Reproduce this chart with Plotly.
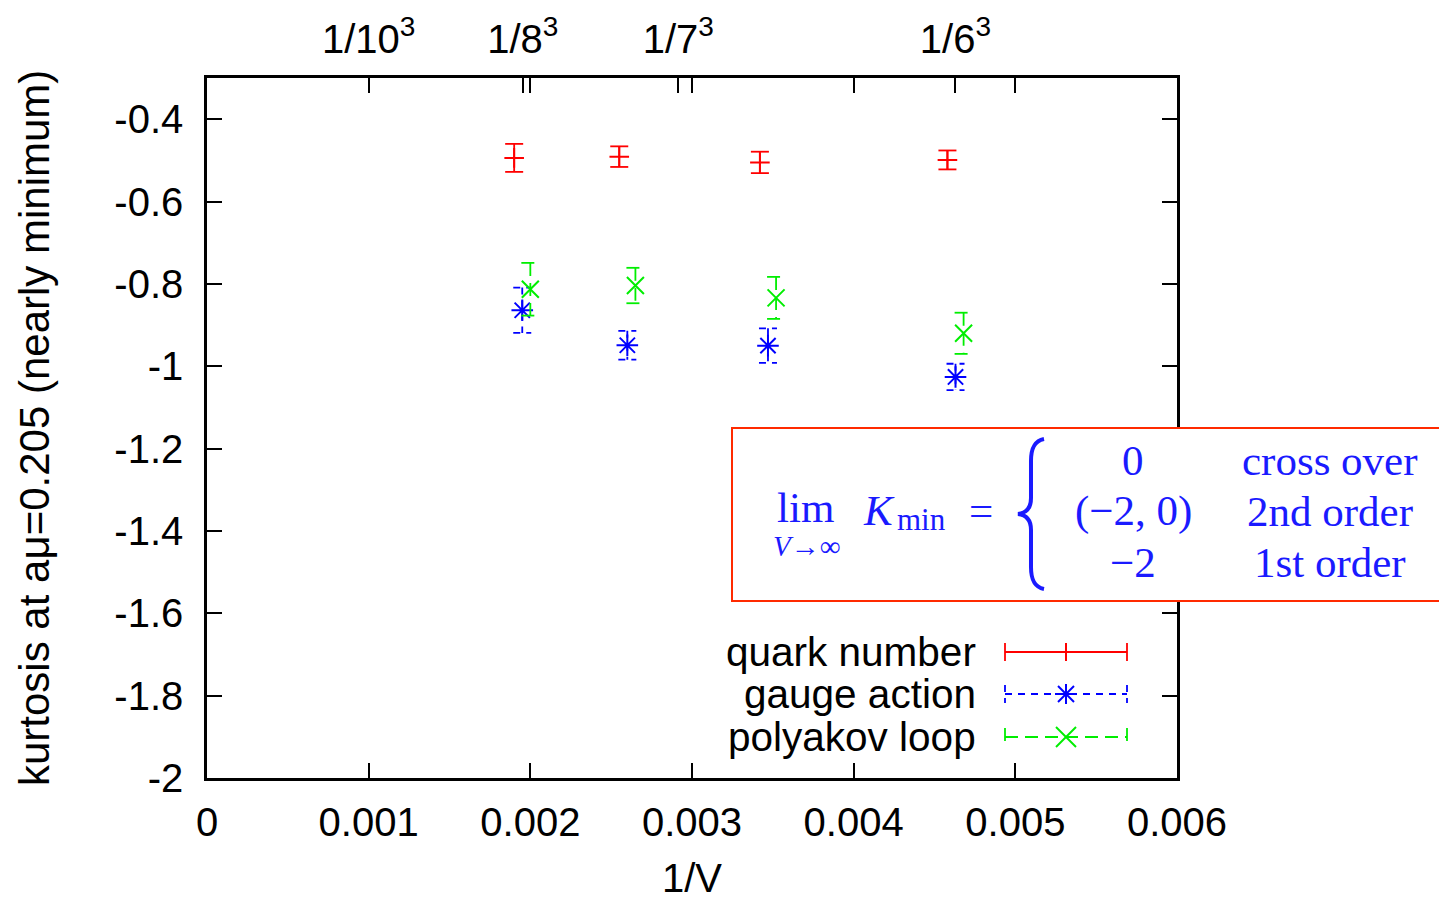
import plotly.graph_objects as go

# ---- data: kurtosis at the (nearly) minimum, versus inverse lattice volume ----
quark_x = [0.00190, 0.00255, 0.00342, 0.00458]
quark_y = [-0.494, -0.491, -0.505, -0.499]
quark_err = [0.034, 0.025, 0.026, 0.023]

gauge_x = [0.00195, 0.00260, 0.00347, 0.00463]
gauge_y = [-0.864, -0.949, -0.950, -1.026]
gauge_err = [0.055, 0.035, 0.042, 0.032]

poly_x = [0.00200, 0.00265, 0.00352, 0.00468]
poly_y = [-0.813, -0.804, -0.834, -0.920]
poly_err = [0.064, 0.043, 0.051, 0.050]

x_ticks = [0, 0.001, 0.002, 0.003, 0.004, 0.005, 0.006]
x_tick_labels = ["0", "0.001", "0.002", "0.003", "0.004", "0.005", "0.006"]
y_ticks = [-2, -1.8, -1.6, -1.4, -1.2, -1, -0.8, -0.6, -0.4]
y_tick_labels = ["-2", "-1.8", "-1.6", "-1.4", "-1.2", "-1", "-0.8", "-0.6", "-0.4"]
top_ticks = [1 / 10**3, 1 / 8**3, 1 / 7**3, 1 / 6**3]
top_tick_labels = ["1/10<sup>3</sup>", "1/8<sup>3</sup>", "1/7<sup>3</sup>", "1/6<sup>3</sup>"]

legend_names = ["quark number", "gauge action", "polyakov loop"]

# ---- geometry / style ----
W, H = 1439, 902
ML, MR, MT, MB = 207, 262, 78, 124
PW, PH = W - ML - MR, H - MT - MB
X_RANGE = [0, 0.006]
Y_RANGE = [-2, -0.3]

SANS = "Liberation Sans, Arial, Helvetica, sans-serif"
SERIF = "Liberation Serif, Times New Roman, serif"
RED, BLUE, GREEN = "#ff0000", "#0000ff", "#00ee00"
MATH_BLUE = "#1a1aff"
BOX_RED = "#ff2a00"
FS = 40
FS_LEGEND = 40.5
FS_YTITLE = 42

BLUE_DASH = "7px,6px"
GREEN_DASH = "13px,7px"

# half cap width of the error bars: 9 screen pixels, expressed in x units
CAP = 9 * (X_RANGE[1] - X_RANGE[0]) / PW


def px(x):
    return (x - ML) / PW


def py(y):
    return (H - MB - y) / PH


def errbar_path(xs, ys, es):
    """Vertical bar with caps for every point, as one broken polyline."""
    ox, oy = [], []
    for x, y, e in zip(xs, ys, es):
        ox += [x - CAP, x + CAP, None, x, x, None, x - CAP, x + CAP, None]
        oy += [y + e, y + e, None, y + e, y - e, None, y - e, y - e, None]
    return ox, oy


fig = go.Figure()

series = [
    (quark_x, quark_y, quark_err, RED, "solid", "cross-thin-open", 14),
    (gauge_x, gauge_y, gauge_err, BLUE, BLUE_DASH, "asterisk-open", 18),
    (poly_x, poly_y, poly_err, GREEN, GREEN_DASH, "x-thin-open", 17),
]

for (xs, ys, es, col, dash, sym, size), name in zip(series, legend_names):
    ex, ey = errbar_path(xs, ys, es)
    fig.add_trace(go.Scatter(
        x=ex, y=ey, mode="lines", connectgaps=False,
        line=dict(color=col, width=1.8, dash=dash),
        hoverinfo="skip", showlegend=False,
    ))
    fig.add_trace(go.Scatter(
        x=xs, y=ys, mode="markers", name=name,
        marker=dict(symbol=sym, size=size, color=col,
                    line=dict(color=col, width=2)),
        showlegend=False,
    ))

# invisible helper so the top axis is realised
fig.add_trace(go.Scatter(x=[top_ticks[0]], y=[Y_RANGE[0]], xaxis="x2",
                         mode="markers", marker=dict(opacity=0),
                         hoverinfo="skip", showlegend=False))

shapes = []
annotations = []

# ---- legend drawn gnuplot style: text on the left, key sample on the right ----
key_x0, key_x1, key_xm = 1005, 1127, 1066
rows = [652, 694, 737]
key_styles = [(RED, "solid"), (BLUE, BLUE_DASH), (GREEN, GREEN_DASH)]


def seg(x0, y0, x1, y1, col, dash="solid", width=1.8):
    shapes.append(dict(type="line", xref="paper", yref="paper",
                       x0=px(x0), y0=py(y0), x1=px(x1), y1=py(y1),
                       line=dict(color=col, width=width, dash=dash), layer="above"))


for name, yr, (col, dash) in zip(legend_names, rows, key_styles):
    annotations.append(dict(text=name, xref="paper", yref="paper",
                            x=px(978), y=py(yr), xanchor="right", yanchor="middle",
                            showarrow=False, font=dict(family=SANS, size=FS_LEGEND, color="black")))
    seg(key_x0, yr, key_x1, yr, col, dash)
    seg(key_x0, yr - 9, key_x0, yr + 9, col, dash)
    seg(key_x1, yr - 9, key_x1, yr + 9, col, dash)

# key glyphs
seg(key_xm, rows[0] - 9, key_xm, rows[0] + 9, RED, width=2)
seg(key_xm - 11, rows[1], key_xm + 11, rows[1], BLUE, width=2)
seg(key_xm, rows[1] - 10, key_xm, rows[1] + 10, BLUE, width=2)
seg(key_xm - 8, rows[1] - 8, key_xm + 8, rows[1] + 8, BLUE, width=2)
seg(key_xm - 8, rows[1] + 8, key_xm + 8, rows[1] - 8, BLUE, width=2)
seg(key_xm - 10, rows[2] - 10, key_xm + 10, rows[2] + 10, GREEN, width=2)
seg(key_xm - 10, rows[2] + 10, key_xm + 10, rows[2] - 10, GREEN, width=2)

# ---- formula box ----
shapes.append(dict(type="rect", xref="paper", yref="paper",
                   x0=px(732), x1=px(1460), y0=py(601), y1=py(428),
                   line=dict(color=BOX_RED, width=2), fillcolor="white", layer="above"))


def brace_path(xl, xs, xr, ytop, ybot):
    ym = (ytop + ybot) / 2
    pts = [
        ("M", [(xr, ytop)]),
        ("C", [(xs + 3, ytop + 2), (xs, ytop + 10), (xs, ytop + 22)]),
        ("L", [(xs, ym - 16)]),
        ("C", [(xs, ym - 6), (xs - 4, ym - 1), (xl, ym)]),
        ("C", [(xs - 4, ym + 1), (xs, ym + 6), (xs, ym + 16)]),
        ("L", [(xs, ybot - 22)]),
        ("C", [(xs, ybot - 10), (xs + 3, ybot - 2), (xr, ybot)]),
    ]
    out = []
    for cmd, ps in pts:
        out.append(cmd + " ".join(f"{px(a):.5f},{py(b):.5f}" for a, b in ps))
    return " ".join(out)


shapes.append(dict(type="path", xref="paper", yref="paper",
                   path=brace_path(1018, 1031, 1044, 439, 589),
                   line=dict(color=MATH_BLUE, width=4), layer="above"))


def math_text(text, x, y, size=43, anchor="center"):
    annotations.append(dict(text=text, xref="paper", yref="paper",
                            x=px(x), y=py(y), xanchor=anchor, yanchor="middle",
                            showarrow=False,
                            font=dict(family=SERIF, size=size, color=MATH_BLUE)))


math_text("lim", 805, 507)
math_text("<i>V</i>→∞", 806, 546, size=29)
math_text("<i>K</i>", 879, 510)
math_text("min", 921, 519, size=31)
math_text("=", 981, 510)
math_text("0", 1133, 460)
math_text("(−2, 0)", 1133, 511)
math_text("−2", 1133, 562)
math_text("cross over", 1330, 460)
math_text("2nd order", 1330, 511)
math_text("1st order", 1330, 562)

# ---- axis titles ----
annotations.append(dict(text="1/V", xref="paper", yref="paper",
                        x=px(692), y=py(878), xanchor="center", yanchor="middle",
                        showarrow=False, font=dict(family=SANS, size=FS, color="black")))
annotations.append(dict(text="kurtosis at aμ=0.205 (nearly minimum)", xref="paper", yref="paper",
                        x=px(34), y=py(428), xanchor="center", yanchor="middle",
                        textangle=-90, showarrow=False,
                        font=dict(family=SANS, size=FS_YTITLE, color="black")))

axis_common = dict(showgrid=False, zeroline=False, ticks="inside", ticklen=15,
                   tickwidth=2, tickcolor="black",
                   tickfont=dict(family=SANS, size=FS, color="black"))

fig.update_layout(
    width=W, height=H,
    margin=dict(l=ML, r=MR, t=MT, b=MB, pad=0),
    paper_bgcolor="white", plot_bgcolor="white",
    showlegend=False,
    xaxis=dict(range=X_RANGE, tickvals=x_ticks, ticktext=x_tick_labels,
               showline=True, linewidth=2.5, linecolor="black", mirror="ticks",
               ticklabelstandoff=7, **axis_common),
    xaxis2=dict(range=X_RANGE, overlaying="x", side="top", anchor="y",
                tickvals=top_ticks, ticktext=top_tick_labels,
                showline=False, ticklabelstandoff=16, **axis_common),
    yaxis=dict(range=Y_RANGE, tickvals=y_ticks, ticktext=y_tick_labels,
               showline=True, linewidth=2.5, linecolor="black", mirror="ticks",
               ticklabelstandoff=13, **axis_common),
    shapes=shapes,
    annotations=annotations,
)

fig.write_html("out.html")
